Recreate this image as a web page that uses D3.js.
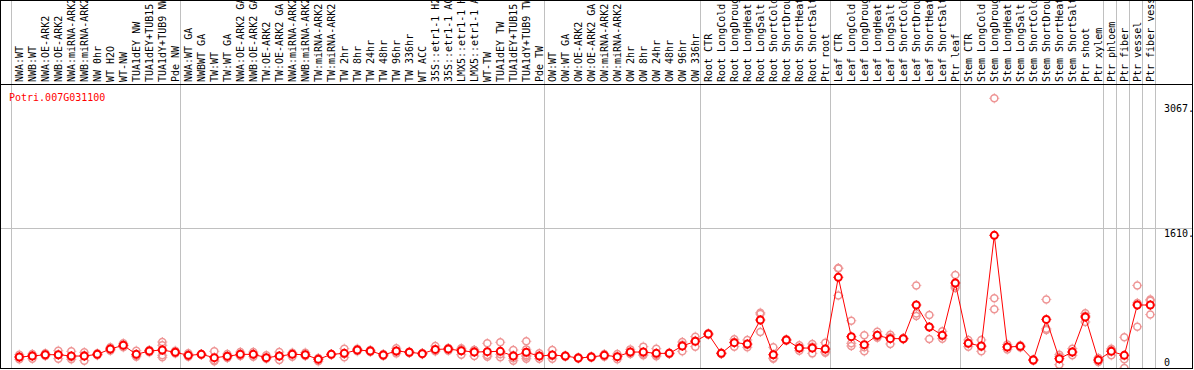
<!DOCTYPE html>
<html lang="en">
<head>
  <meta charset="UTF-8">
  <title>Potri.007G031100 expression</title>
  <script src="https://d3js.org/d3.v7.min.js"></script>
  <style>
    body { margin: 0; background: #fff; }
    svg { display: block; }
    text { font-family: "DejaVu Sans Mono", monospace; font-size: 10px; }
  </style>
</head>
<body>
  <script>
    const geneId = "Potri.007G031100";

    const sampleLabels = [
      "NWA:WT", "NWB:WT", "NWA:OE-ARK2", "NWB:OE-ARK2", "NWA:miRNA-ARK2", "NWB:miRNA-ARK2",
      "NW 0hr", "WT H2O", "WT-NW", "TUA1dEY NW", "TUA1dEY+TUB15", "TUA1dY+TUB9 NW", "Pde NW",
      "NWA:WT GA", "NWBWT GA", "TW:WT", "TW:WT GA", "NWA:OE-ARK2 GA", "NWB:OE-ARK2 GA",
      "TW:OE-ARK2", "TW:OE-ARK2 GA", "NWA:miRNA-ARK2", "NWB:miRNA-ARK2", "TW:miRNA-ARK2",
      "TW:miRNA-ARK2", "TW 2hr", "TW 8hr", "TW 24hr", "TW 48hr", "TW 96hr", "TW 336hr",
      "WT ACC", "35S::etr1-1 H2O", "35S::etr1-1 ACC", "LMX5::etr1-1 H2O", "LMX5::etr1-1 ACC",
      "WT-TW", "TUA1dEY TW", "TUA1dEY+TUB15 TW", "TUA1dY+TUB9 TW", "Pde TW",
      "OW:WT", "OW:WT GA", "OW:OE-ARK2", "OW:OE-ARK2 GA", "OW:miRNA-ARK2", "OW:miRNA-ARK2",
      "OW 2hr", "OW 8hr", "OW 24hr", "OW 48hr", "OW 96hr", "OW 336hr",
      "Root CTR", "Root LongCold", "Root LongDrought", "Root LongHeat", "Root LongSalt",
      "Root ShortCold", "Root ShortDrought", "Root ShortHeat", "Root ShortSalt", "Ptr root",
      "Leaf CTR", "Leaf LongCold", "Leaf LongDrought", "Leaf LongHeat", "Leaf LongSalt",
      "Leaf ShortCold", "Leaf ShortDrought", "Leaf ShortHeat", "Leaf ShortSalt", "Ptr leaf",
      "Stem CTR", "Stem LongCold", "Stem LongDrought", "Stem LongHeat", "Stem LongSalt",
      "Stem ShortCold", "Stem ShortDrought", "Stem ShortHeat", "Stem ShortSalt", "Ptr shoot",
      "Ptr xylem", "Ptr phloem", "Ptr fiber", "Ptr vessel", "Ptr fiber vessel"
    ];

    // number of samples in each experiment block (separated by grey lines)
    const groupSizes = [13, 28, 12, 10, 10, 11, 1, 1, 1, 1];

    const meanValues = [
      152, 163, 178, 178, 163, 163, 182, 242, 284, 182, 220, 231, 205,
      171, 182, 145, 160, 182, 182, 145, 163, 182, 178, 126, 182, 193, 231, 220, 175,
      220, 205, 190, 238, 242, 223, 208, 212, 216, 163, 205, 163,
      175, 163, 141, 152, 171, 156, 208, 208, 193, 193, 276, 329,
      411, 193, 314, 299, 569, 178, 344, 253, 253, 242,
      1050, 381, 291, 396, 359, 359, 738, 490, 396, 986,
      306, 276, 1523, 265, 272, 118, 576, 133, 208, 603, 118,
      216, 171, 738, 738
    ];

    const replicateValues = [
      [178, 152, 126], [186, 170, 133], [193, 178, 163], [223, 178, 133], [216, 148, 126],
      [205, 173, 111], [193, 182, 171], [261, 242, 223], [306, 284, 262], [223, 167, 156],
      [231, 224, 205], [321, 284, 171, 148], [223, 205, 193],
      [193, 171, 156], [186, 182, 178], [216, 116, 103], [186, 160, 141], [208, 182, 163],
      [208, 182, 156], [171, 141, 133], [208, 163, 118], [201, 190, 156], [201, 171, 163],
      [141, 133, 103], [186, 182, 178], [246, 186, 148], [246, 231, 216], [231, 220, 208],
      [186, 175, 163], [250, 216, 193], [212, 205, 198], [197, 190, 183], [276, 224, 216],
      [253, 250, 223], [240, 250, 178], [231, 231, 163], [306, 175, 156], [318, 182, 148],
      [231, 171, 137, 111], [329, 238, 156, 133, 171], [193, 163, 133],
      [231, 163, 133], [170, 163, 156], [148, 141, 134], [160, 152, 145], [186, 171, 156],
      [186, 156, 126], [238, 201, 186], [269, 186, 171], [246, 160, 175], [200, 193, 186],
      [321, 291, 216], [381, 336, 269],
      [420, 411, 402], [200, 193, 186], [351, 321, 269], [344, 291, 261], [651, 636, 434],
      [261, 141, 133], [352, 344, 336], [284, 253, 223], [299, 268, 193], [314, 212, 201],
      [1150, 1154, 846], [561, 306, 276], [396, 261, 216], [437, 381, 370], [404, 374, 299],
      [366, 359, 352], [959, 641, 614], [625, 490, 355], [441, 389, 359], [1076, 952, 930],
      [344, 306, 269], [344, 269, 216], [3067, 813, 689], [292, 265, 238], [284, 272, 260],
      [125, 118, 111], [801, 471, 456], [178, 156, 66], [246, 208, 171], [644, 618, 547],
      [141, 118, 95],
      [246, 231, 171], [374, 126, 28], [959, 761, 494], [801, 786, 630]
    ];

    const yTicks = [0, 1610, 3067];
    const gridTicks = [1610];

    const width = 1194, height = 370;
    const headerBottom = 84.5, frameRight = 1192.5, frameBottom = 368.5;

    const svg = d3.select("body").append("svg")
      .attr("width", width)
      .attr("height", height);

    const idx = d3.range(sampleLabels.length);
    const x = d3.scaleBand().domain(idx).range([10.7, 1154.7]);
    const cx = i => x(i) + 8.6;
    const y = d3.scaleLinear().domain([0, 3067]).range([370.5, 98.3]);

    // group separators
    const starts = [];
    let acc = 0;
    groupSizes.forEach(n => { starts.push(acc); acc += n; });
    const sepX = starts.map(i => x(i)).concat([x(idx.length - 1) + x.step()]);

    svg.append("g")
      .attr("stroke", "#c0c0c0")
      .attr("stroke-width", 1)
      .selectAll("line")
      .data(sepX)
      .join("line")
      .attr("x1", d => Math.round(d) + 0.5)
      .attr("x2", d => Math.round(d) + 0.5)
      .attr("y1", 0)
      .attr("y2", frameBottom);

    // horizontal grid
    svg.append("g")
      .attr("stroke", "#c0c0c0")
      .selectAll("line")
      .data(gridTicks)
      .join("line")
      .attr("x1", 0)
      .attr("x2", frameRight)
      .attr("y1", d => Math.round(y(d)) + 0.5)
      .attr("y2", d => Math.round(y(d)) + 0.5);

    // header labels (long ones run off the top, as in the original)
    svg.append("clipPath").attr("id", "hdr")
      .append("rect").attr("x", 0).attr("y", 1).attr("width", width).attr("height", headerBottom - 1);

    svg.append("g")
      .attr("clip-path", "url(#hdr)")
      .selectAll("text")
      .data(idx)
      .join("text")
      .attr("transform", i => `translate(${cx(i) + 3.8},82) rotate(-90)`)
      .attr("fill", "#000")
      .text(i => sampleLabels[i]);

    // plot area
    svg.append("clipPath").attr("id", "plot")
      .append("rect").attr("x", 1).attr("y", headerBottom).attr("width", frameRight - 1).attr("height", frameBottom - headerBottom);

    const plot = svg.append("g").attr("clip-path", "url(#plot)");

    const tickPath = "M-5,0h1M4,0h1M0,-5v1M0,4v1";

    // replicates
    const reps = [];
    replicateValues.forEach((vals, i) => vals.forEach(v => reps.push({ i, v })));

    const repG = plot.append("g")
      .selectAll("g")
      .data(reps)
      .join("g")
      .attr("transform", d => `translate(${cx(d.i)},${y(d.v)})`)
      .attr("stroke", "#ee9494")
      .attr("fill", "none");
    repG.append("circle").attr("r", 3.5).attr("stroke-width", 1.5);
    repG.append("path").attr("d", tickPath).attr("stroke-width", 1);

    // mean line
    plot.append("path")
      .datum(meanValues)
      .attr("fill", "none")
      .attr("stroke", "#ff0000")
      .attr("stroke-width", 1)
      .attr("d", d3.line().x((d, i) => cx(i)).y(d => y(d)));

    const meanG = plot.append("g")
      .selectAll("g")
      .data(meanValues)
      .join("g")
      .attr("transform", (d, i) => `translate(${cx(i)},${y(d)})`)
      .attr("stroke", "#ff0000");
    meanG.append("circle").attr("r", 3.5).attr("fill", "#fff").attr("stroke-width", 2);
    meanG.append("path").attr("d", tickPath).attr("stroke-width", 1);

    // gene id
    svg.append("text")
      .attr("x", 9)
      .attr("y", 101)
      .attr("fill", "#ff0000")
      .text(geneId);

    // y labels on the right
    svg.append("g")
      .selectAll("text")
      .data(yTicks)
      .join("text")
      .attr("x", 1164)
      .attr("y", d => Math.min(Math.max(y(d) + 9.5, 112), 366))
      .attr("fill", "#000")
      .text(d => d === 0 ? "0" : d + ".");

    // frame
    svg.append("rect")
      .attr("x", 0.5).attr("y", 0.5)
      .attr("width", frameRight - 0.5).attr("height", frameBottom - 0.5)
      .attr("fill", "none").attr("stroke", "#000");
    svg.append("line")
      .attr("x1", 0).attr("x2", frameRight)
      .attr("y1", headerBottom).attr("y2", headerBottom)
      .attr("stroke", "#000");
  </script>
</body>
</html>
